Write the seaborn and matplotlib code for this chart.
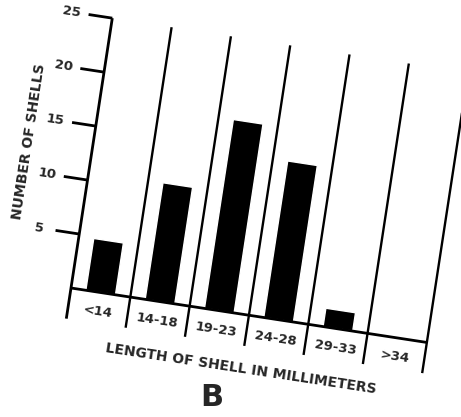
import matplotlib
matplotlib.use("Agg")
import matplotlib.pyplot as plt
from matplotlib.transforms import Affine2D
import numpy as np
import seaborn as sns

# data
categories = ["<14", "14-18", "19-23", "24-28", "29-33", ">34"]
shells = [4.8, 10.8, 17.5, 14.5, 1.7, 0.0]
yticks = [5, 10, 15, 20, 25]

sns.set_style("white")
plt.rcParams["font.family"] = ["DejaVu Sans"]

W, H = 461, 417
fig = plt.figure(figsize=(W / 100, H / 100), dpi=100)

# unrotated axes box in pixels, then the whole chart is tilted clockwise
x0, y0, aw, ah = 71, 129, 360, 273
angle = -8.7
ax = fig.add_axes([x0 / W, y0 / H, aw / W, ah / H])

sns.barplot(x=categories, y=shells, color="black", width=0.5,
            errorbar=None, saturation=1, ax=ax)
ax.set_xlim(-0.5, len(categories) - 0.5)
ax.set_ylim(0, 25)
ax.axis("off")

rot = Affine2D().rotate_deg_around(x0, y0, angle)
tr = ax.transData + rot

for p in ax.patches:
    p.set_transform(tr)
    p.set_clip_on(False)

px_x = aw / len(categories)   # pixels per category
px_y = ah / 25                # pixels per shell
lw = 1.7
bottom = -31 / px_y

# y axis + box dividers
for xd in np.arange(len(categories) + 1) - 0.5:
    ax.plot([xd, xd], [bottom, 25], color="black", lw=lw if xd > -0.5 else 2.0,
            transform=tr, clip_on=False, solid_capstyle="butt")
# baseline
ax.plot([-0.5, len(categories) - 0.5], [0, 0], color="black", lw=2.0,
        transform=tr, clip_on=False, solid_capstyle="butt")

# y ticks
tl = 24 / px_x
for t in yticks:
    ax.plot([-0.5 - tl, -0.5], [t, t], color="black", lw=2.0,
            transform=tr, clip_on=False, solid_capstyle="butt")
    ax.text(-0.5 - 41 / px_x, t, str(t), transform=tr, rotation=angle,
            rotation_mode="anchor", ha="center", va="center", fontsize=9.5,
            fontweight="bold")

# category labels inside the boxes
for i, c in enumerate(categories):
    ax.text(i, -19 / px_y, c, transform=tr, rotation=angle,
            rotation_mode="anchor", ha="center", va="center", fontsize=9.5,
            fontweight="bold")

ax.text(-0.5 - 64 / px_x, 12.7, "NUMBER OF SHELLS", transform=tr,
        rotation=90 + angle, rotation_mode="anchor", ha="center", va="center",
        fontsize=10, fontweight="bold")
ax.text(2.5, -54 / px_y, "LENGTH OF SHELL IN MILLIMETERS", transform=tr,
        rotation=angle, rotation_mode="anchor", ha="center", va="center",
        fontsize=10, fontweight="bold")

fig.text(212 / W, 1 - 398 / H, "B", ha="center", va="center",
         fontsize=22, fontweight="bold")

fig.savefig("out.png", dpi=100)
